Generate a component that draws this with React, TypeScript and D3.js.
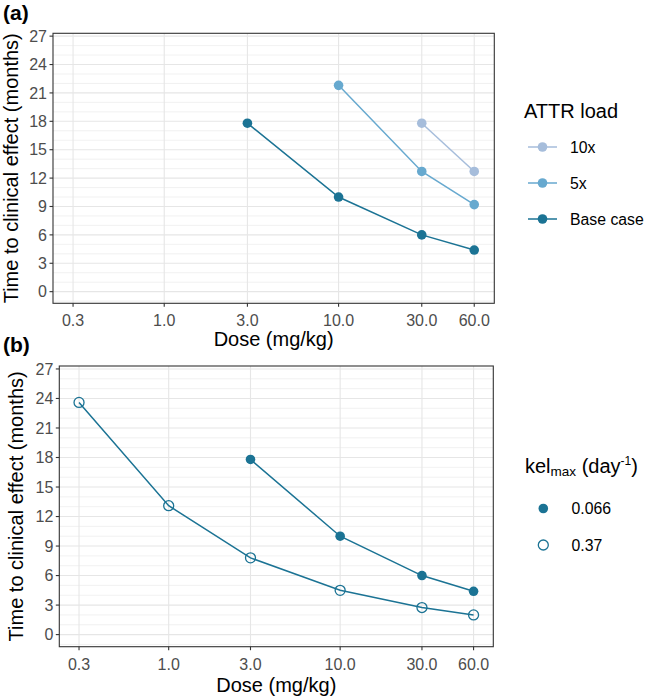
import React from "react";
import * as d3 from "d3";

const doseTicks = [0.3, 1, 3, 10, 30, 60];
const doseTickLabels = ["0.3", "1.0", "3.0", "10.0", "30.0", "60.0"];
const timeTicks = [0, 3, 6, 9, 12, 15, 18, 21, 24, 27];
const timeMinor = [-1, 1, 2, 4, 5, 7, 8, 10, 11, 13, 14, 16, 17, 19, 20, 22, 23, 25, 26];

// Panel (a): ATTR load
const attrLabels = ["10x", "5x", "Base case"];
const tenxDose = [30, 60];
const tenxTime = [17.8, 12.7];
const fivexDose = [10, 30, 60];
const fivexTime = [21.8, 12.7, 9.2];
const baseDose = [3, 10, 30, 60];
const baseTime = [17.8, 10.0, 6.0, 4.4];

// Panel (b): kel max
const kelLabels = ["0.066", "0.37"];
const kelLowDose = [3, 10, 30, 60];
const kelLowTime = [17.8, 10.0, 6.0, 4.4];
const kelHighDose = [0.3, 1, 3, 10, 30, 60];
const kelHighTime = [23.6, 13.1, 7.8, 4.5, 2.75, 2.0];

const C10 = "#a6bddb";
const C5 = "#67a9cf";
const CB = "#1b7394";
const FONT = "Liberation Sans, Arial, sans-serif";

type Series = { dose: number[]; time: number[]; color: string; open?: boolean };

function Panel(props: {
  left: number; top: number; right: number; bottom: number;
  series: Series[]; tag: string; tagY: number; yTitleX: number; xTitleY: number;
}) {
  const { left, top, right, bottom, series } = props;
  const lmin = Math.log10(0.3), lmax = Math.log10(60);
  const pad = (lmax - lmin) * 0.05;
  const x = d3.scaleLog().domain([Math.pow(10, lmin - pad), Math.pow(10, lmax + pad)]).range([left, right]);
  const y = d3.scaleLinear().domain([-1.23, 27.3]).range([bottom, top]);
  const line = d3.line<[number, number]>().x(d => x(d[0])).y(d => y(d[1]));
  const cx = (left + right) / 2;
  const cy = (top + bottom) / 2;
  return (
    <g>
      <rect x={left} y={top} width={right - left} height={bottom - top} fill="#fff" />
      {timeMinor.map(t => (
        <line key={"mn" + t} x1={left} x2={right} y1={y(t)} y2={y(t)} stroke="#ededed" strokeWidth={0.8} />
      ))}
      {timeTicks.map(t => (
        <line key={"mj" + t} x1={left} x2={right} y1={y(t)} y2={y(t)} stroke="#e6e6e6" strokeWidth={1.1} />
      ))}
      {doseTicks.map(d => (
        <line key={"vx" + d} x1={x(d)} x2={x(d)} y1={top} y2={bottom} stroke="#e6e6e6" strokeWidth={1.1} />
      ))}
      {series.map((s, i) => (
        <path key={"l" + i} d={line(s.dose.map((d, j) => [d, s.time[j]] as [number, number])) || ""}
          fill="none" stroke={s.color} strokeWidth={1.5} />
      ))}
      {series.map((s, i) =>
        s.dose.map((d, j) => (
          <circle key={"p" + i + "-" + j} cx={x(d)} cy={y(s.time[j])} r={s.open ? 5 : 4.8}
            fill={s.open ? "none" : s.color} stroke={s.color} strokeWidth={s.open ? 1.3 : 0} />
        ))
      )}
      <rect x={left} y={top} width={right - left} height={bottom - top} fill="none" stroke="#333" strokeWidth={1.1} />
      {timeTicks.map(t => (
        <g key={"yt" + t}>
          <line x1={left - 3.5} x2={left} y1={y(t)} y2={y(t)} stroke="#333" strokeWidth={1.1} />
          <text x={left - 6} y={y(t)} dy="0.36em" textAnchor="end" fontSize={16} fill="#4d4d4d" fontFamily={FONT}>{t}</text>
        </g>
      ))}
      {doseTicks.map((d, i) => (
        <g key={"xt" + d}>
          <line x1={x(d)} x2={x(d)} y1={bottom} y2={bottom + 3.5} stroke="#333" strokeWidth={1.1} />
          <text x={x(d)} y={bottom + 23} textAnchor="middle" fontSize={16} fill="#4d4d4d" fontFamily={FONT}>{doseTickLabels[i]}</text>
        </g>
      ))}
      <text x={cx} y={props.xTitleY} textAnchor="middle" fontSize={20} fill="#000" fontFamily={FONT}>Dose (mg/kg)</text>
      <text transform={`translate(${props.yTitleX},${cy}) rotate(-90)`} textAnchor="middle" fontSize={20} fill="#000" fontFamily={FONT}>
        Time to clinical effect (months)
      </text>
      <text x={3} y={props.tagY} fontSize={21} fontWeight="bold" fill="#000" fontFamily={FONT}>{props.tag}</text>
    </g>
  );
}

export default function App() {
  const seriesA: Series[] = [
    { dose: tenxDose, time: tenxTime, color: C10 },
    { dose: fivexDose, time: fivexTime, color: C5 },
    { dose: baseDose, time: baseTime, color: CB },
  ];
  const seriesB: Series[] = [
    { dose: kelLowDose, time: kelLowTime, color: CB },
    { dose: kelHighDose, time: kelHighTime, color: CB, open: true },
  ];
  const legAColors = [C10, C5, CB];
  const legAY = [147, 183, 219];
  const legBY = [508.5, 545];
  return (
    <svg width={646} height={700} style={{ position: "absolute", left: 0, top: 0, background: "#fff" }}>
      <rect x={0} y={0} width={646} height={700} fill="#fff" />
      <Panel left={53} top={33.3} right={494.3} bottom={303.3} series={seriesA} tag="(a)" tagY={20}
        yTitleX={18} xTitleY={346} />
      <Panel left={59.3} top={366} right={493.3} bottom={646.7} series={seriesB} tag="(b)" tagY={352}
        yTitleX={23} xTitleY={692} />
      {/* Legend (a) */}
      <text x={524} y={118} fontSize={20} fill="#000" fontFamily={FONT}>ATTR load</text>
      {attrLabels.map((lab, i) => (
        <g key={"la" + i}>
          <line x1={528} x2={557} y1={legAY[i]} y2={legAY[i]} stroke={legAColors[i]} strokeWidth={1.5} />
          <circle cx={542.5} cy={legAY[i]} r={4.8} fill={legAColors[i]} />
          <text x={570} y={legAY[i]} dy="0.36em" fontSize={15.8} fill="#000" fontFamily={FONT}>{lab}</text>
        </g>
      ))}
      {/* Legend (b) */}
      <text x={525} y={473} fontSize={20} fill="#000" fontFamily={FONT}>
        kel<tspan fontSize={13.5} dy={3}>max</tspan><tspan dy={-3}> (day</tspan><tspan fontSize={12} dy={-8}>-1</tspan><tspan dy={8}>)</tspan>
      </text>
      {kelLabels.map((lab, i) => (
        <g key={"lb" + i}>
          <circle cx={543.3} cy={legBY[i]} r={i === 0 ? 4.8 : 5} fill={i === 0 ? CB : "none"} stroke={CB} strokeWidth={i === 0 ? 0 : 1.3} />
          <text x={571.5} y={legBY[i]} dy="0.36em" fontSize={15.8} fill="#000" fontFamily={FONT}>{lab}</text>
        </g>
      ))}
    </svg>
  );
}
